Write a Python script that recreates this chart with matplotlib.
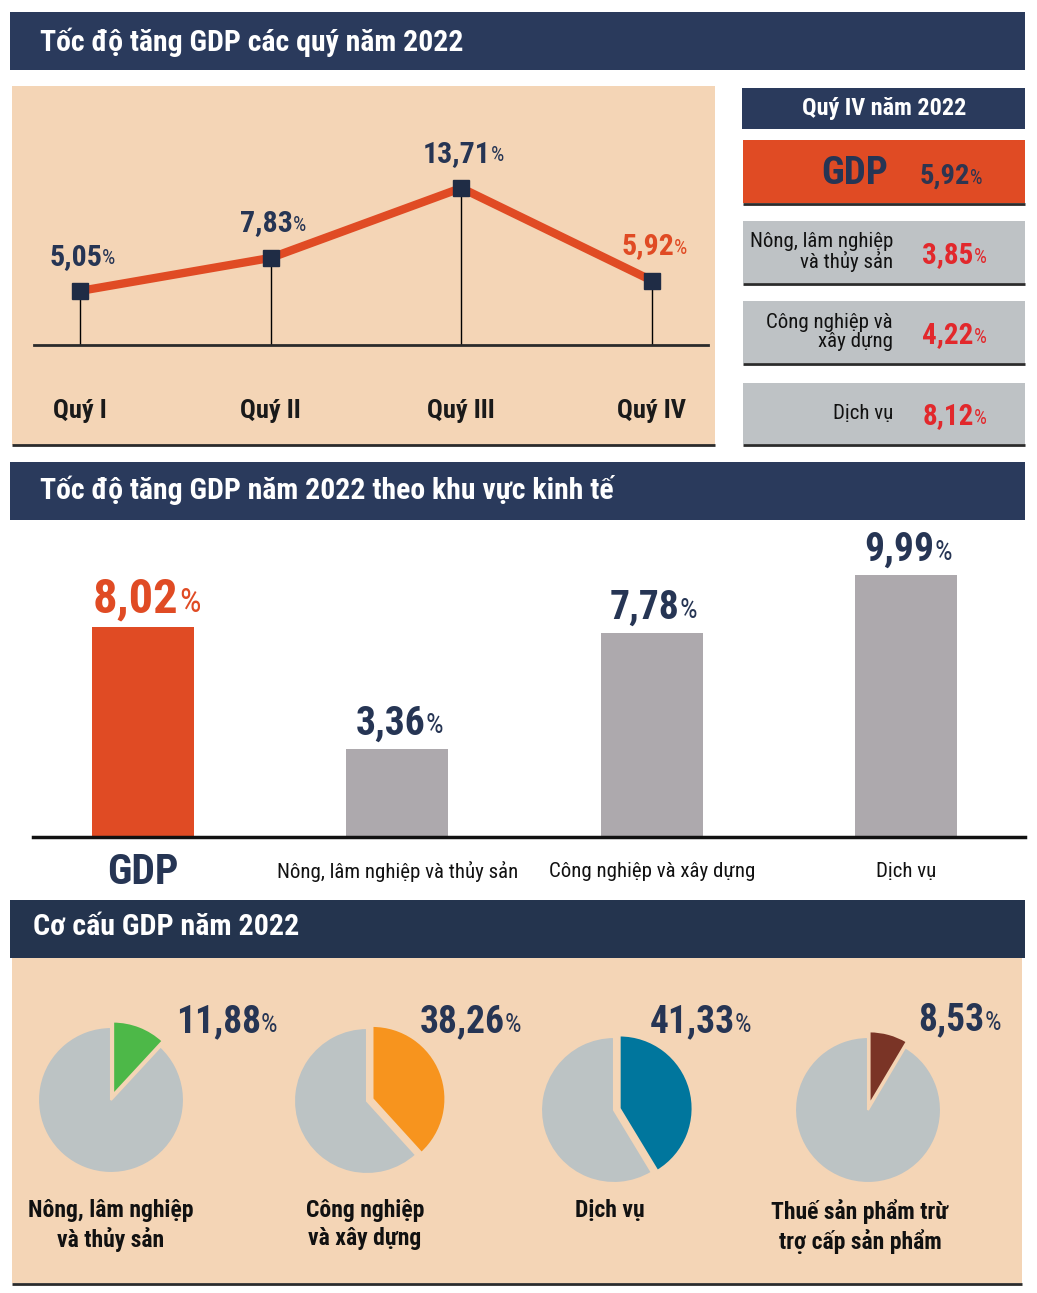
import numpy as np
import matplotlib
matplotlib.use('Agg')
from matplotlib import pyplot as plt
from matplotlib import font_manager
from matplotlib.patches import Rectangle


# data
quarters = ['Quý I', 'Quý II', 'Quý III', 'Quý IV']
quarter_growth = [5.05, 7.83, 13.71, 5.92]

q4_gdp = 5.92
q4_sectors = ['Nông, lâm nghiệp\nvà thủy sản', 'Công nghiệp và\nxây dựng', 'Dịch vụ']
q4_growth = [3.85, 4.22, 8.12]

sectors = ['GDP', 'Nông, lâm nghiệp và thủy sản', 'Công nghiệp và xây dựng', 'Dịch vụ']
sector_growth = [8.02, 3.36, 7.78, 9.99]

share_labels = ['Nông, lâm nghiệp\nvà thủy sản', 'Công nghiệp\nvà xây dựng', 'Dịch vụ',
                'Thuế sản phẩm trừ\ntrợ cấp sản phẩm']
share_values = [11.88, 38.26, 41.33, 8.53]


NAVY = '#2A3A5C'
NAVY_TXT = '#263554'
ORANGE = '#E04B24'
PEACH = '#F4D5B6'
BOXGRAY = '#BEC2C5'
BARGRAY = '#ADA9AD'
PIEGRAY = '#BCC3C4'
RED = '#E2282C'
DARK = '#2B2B2B'
share_colors = ['#4DB848', '#F7941E', '#00769D', '#7A3426']

# pick a narrow font if there is one
available = {f.name for f in font_manager.fontManager.ttflist}
FONT, K = 'DejaVu Sans', 0.78
for name, k in [('Roboto Condensed', 1.0), ('Liberation Sans Narrow', 1.0),
                ('Open Sans Condensed', 1.0), ('Liberation Sans', 0.84), ('Roboto', 0.84)]:
    if name in available:
        FONT, K = name, k
        break

W, H = 1037, 1293
fig = plt.figure(figsize=(W / 100, H / 100), dpi=100)
bg = fig.add_axes([0, 0, 1, 1])
bg.set_xlim(0, W)
bg.set_ylim(H, 0)
bg.axis('off')


def frac(x0, y0, x1, y1):
    return [x0 / W, 1 - y1 / H, (x1 - x0) / W, (y1 - y0) / H]


def box(x0, y0, x1, y1, color):
    bg.add_patch(Rectangle((x0, y0), x1 - x0, y1 - y0, facecolor=color, edgecolor='none'))


def hline(x0, x1, y, lw=2.0):
    bg.plot([x0, x1], [y, y], color=DARK, lw=lw, solid_capstyle='butt')


def txt(x, y, s, size, color='black', weight='bold', ha='left', va='center', ax=None, **kw):
    ax = ax or bg
    return ax.text(x, y, s, fontsize=size * K, color=color, fontweight=weight,
                   ha=ha, va=va, family=FONT, **kw)


def pct(t, color):
    # smaller % glued after a number, sharing its baseline
    big = t.get_fontsize()
    small = big * 0.7
    return t.axes.annotate('%', xy=(1, 0), xycoords=t, xytext=(0, 0.26 * (big - small)),
                           textcoords='offset points', fontsize=small, color=color,
                           family=FONT, ha='left', va='bottom')


def num(v):
    return f'{v:.2f}'.replace('.', ',')


# ---------- section 1: quarterly growth
box(10, 12, 1025, 70, NAVY)
txt(40, 42, 'Tốc độ tăng GDP các quý năm 2022', 21.4, 'white')
box(12, 86, 715, 445, PEACH)
hline(12, 715, 445)

ax1 = fig.add_axes(frac(34, 86, 708, 345))
ax1.patch.set_alpha(0)
x = np.arange(len(quarters))
ax1.set_xlim(-0.241, 3.294)
ax1.set_ylim(0.505, 22.29)
ax1.vlines(x, 0.505, quarter_growth, color='black', lw=1)
ax1.plot(x, quarter_growth, color=ORANGE, lw=6, marker='s', ms=12,
         mfc='#1F2C45', mec='#1F2C45', zorder=3)
for s in ['top', 'left', 'right']:
    ax1.spines[s].set_visible(False)
ax1.spines['bottom'].set_linewidth(2)
ax1.spines['bottom'].set_color(DARK)
ax1.set_xticks([])
ax1.set_yticks([])
for i, v in enumerate(quarter_growth):
    c = ORANGE if i == len(quarter_growth) - 1 else NAVY_TXT
    t = ax1.annotate(num(v), xy=(i, v), xytext=(-3, 19),
                     textcoords='offset points', ha='center', va='baseline',
                     fontsize=21.5 * K, color=c, fontweight='bold', family=FONT)
    pct(t, c)
    ax1.text(i, -0.255, quarters[i], transform=ax1.get_xaxis_transform(), ha='center',
             va='center', fontsize=19 * K, fontweight='bold', family=FONT, color='#1A1A1A')

# right side: Q4 breakdown
box(742, 88, 1025, 129, NAVY)
txt(884, 108, 'Quý IV năm 2022', 17.4, 'white', ha='center')
box(743, 140, 1025, 203, ORANGE)
hline(743, 1025, 204)
txt(855, 173, 'GDP', 28, NAVY_TXT, weight='heavy', ha='center')
t = txt(945, 184, num(q4_gdp), 20.5, '#2E3550', ha='center', va='baseline')
pct(t, '#2E3550')

rows = [(221, 283), (301, 363), (383, 444)]
for (y0, y1), lab, v in zip(rows, q4_sectors, q4_growth):
    box(743, y0, 1025, y1, BOXGRAY)
    hline(743, 1025, y1 + 1)
    yc = (y0 + y1) / 2
    txt(893, yc, lab, 15, '#111111', weight='normal', ha='right', multialignment='right',
        linespacing=1.0)
    t = txt(948, yc + 11, num(v), 21, RED, ha='center', va='baseline')
    pct(t, RED)

# ---------- section 2: growth by sector
box(10, 462, 1025, 520, NAVY)
txt(40, 490, 'Tốc độ tăng GDP năm 2022 theo khu vực kinh tế', 21.4, 'white')

ax2 = fig.add_axes(frac(33, 530, 1025, 837))
ax2.patch.set_alpha(0)
xb = np.arange(len(sectors))
bar_colors = [ORANGE] + [BARGRAY] * (len(sectors) - 1)
ax2.bar(xb, sector_growth, width=0.40, color=bar_colors)
ax2.set_xlim(-0.432, 3.467)
ax2.set_ylim(0, 11.72)
for s in ['top', 'left', 'right']:
    ax2.spines[s].set_visible(False)
ax2.spines['bottom'].set_linewidth(2.5)
ax2.spines['bottom'].set_color('#111111')
ax2.set_xticks([])
ax2.set_yticks([])
for i, v in enumerate(sector_growth):
    if i == 0:
        c, fs = ORANGE, 35
    else:
        c, fs = NAVY_TXT, 28.5
    t = ax2.annotate(num(v), xy=(i, v), xytext=(-5, 10.5),
                     textcoords='offset points', ha='center', va='baseline',
                     fontsize=fs * K, color=c, fontweight='bold', family=FONT)
    pct(t, c)
    if i == 0:
        ax2.text(i, -0.117, sectors[i], transform=ax2.get_xaxis_transform(), ha='center',
                 va='center', fontsize=30 * K, fontweight='heavy', family=FONT, color=NAVY_TXT)
    else:
        ax2.text(i, -0.114, sectors[i], transform=ax2.get_xaxis_transform(), ha='center',
                 va='center', fontsize=15 * K, family=FONT, color='#111111')

# ---------- section 3: GDP structure
box(10, 900, 1025, 958, '#24344E')
txt(33, 927, 'Cơ cấu GDP năm 2022', 21.6, 'white')
box(12, 958, 1022, 1283, PEACH)
hline(12, 1022, 1284)

pie_centers = [(111, 1100), (367, 1101), (614, 1110), (868, 1110)]
pie_label_xy = [(176, 1032), (420, 1032), (650, 1032), (918, 1030)]
label_x = [111, 365, 610, 860]
for i, v in enumerate(share_values):
    cx, cy = pie_centers[i]
    axp = fig.add_axes(frac(cx - 90, cy - 90, cx + 90, cy + 90))
    axp.pie([v, 100 - v], colors=[share_colors[i], PIEGRAY], startangle=90,
            counterclock=False, explode=[0.08, 0],
            wedgeprops=dict(edgecolor=PEACH, linewidth=1.5))
    axp.set_xlim(-1.233, 1.233)
    axp.set_ylim(-1.233, 1.233)
    axp.axis('off')
    lx, ly = pie_label_xy[i]
    t = txt(lx, ly, num(v), 27, NAVY_TXT, va='baseline')
    pct(t, NAVY_TXT)
    txt(label_x[i], 1199, share_labels[i], 17, '#111111', ha='center', va='top', linespacing=1.25)

fig.savefig('out.png', dpi=100)
